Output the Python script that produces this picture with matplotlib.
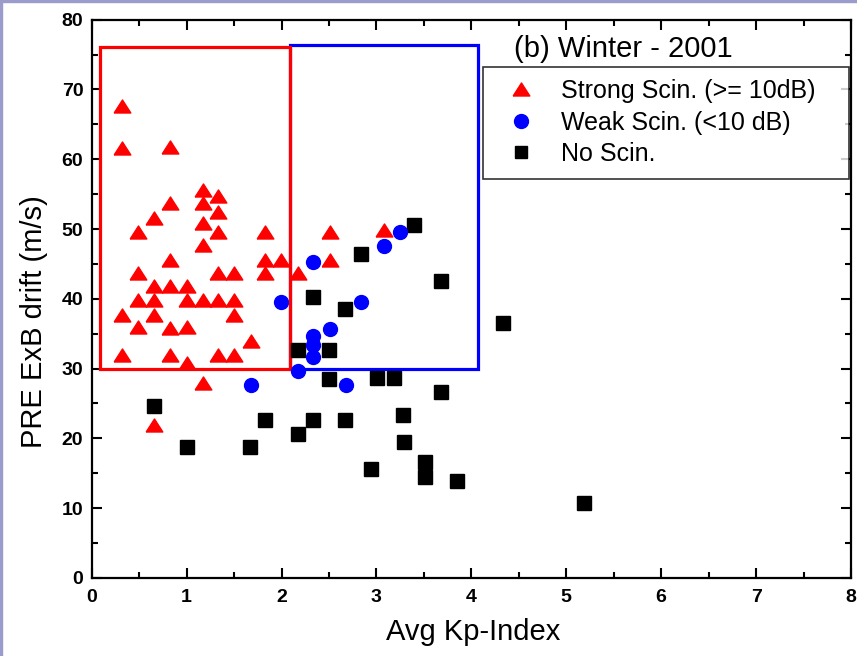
import matplotlib
matplotlib.use("Agg")
import matplotlib.pyplot as plt
from matplotlib.patches import Rectangle
from matplotlib.lines import Line2D
from matplotlib.ticker import MultipleLocator

plt.rcParams['font.family'] = ['Liberation Sans', 'DejaVu Sans']

# Strong scintillation (>= 10 dB)
strong_kp = [0.32, 0.32, 0.82, 1.17, 1.33, 1.17, 1.33, 0.82, 0.66, 0.49, 1.17, 1.33, 1.83,
             1.17, 0.82, 1.83, 1.99, 0.49, 1.33, 1.50, 1.83, 2.17, 0.66, 0.82, 1.00,
             0.49, 0.66, 1.00, 1.17, 1.33, 1.50, 0.32, 0.66, 1.50, 0.49, 0.82, 1.00,
             1.68, 0.32, 0.82, 1.33, 1.50, 1.00, 1.17, 0.66, 2.51, 3.08, 2.51]
strong_drift = [67.6, 61.6, 61.8, 55.6, 54.8, 53.7, 52.5, 53.7, 51.6, 49.6, 50.9, 49.6, 49.6,
                47.7, 45.6, 45.6, 45.6, 43.7, 43.7, 43.7, 43.7, 43.7, 41.8, 41.8, 41.8,
                39.9, 39.9, 39.9, 39.9, 39.9, 39.9, 37.7, 37.7, 37.7, 36.0, 35.8, 36.0,
                33.9, 32.0, 32.0, 32.0, 32.0, 30.8, 27.9, 21.9, 49.6, 49.8, 45.6]

# Weak scintillation (< 10 dB)
weak_kp = [3.25, 3.08, 2.33, 1.99, 2.84, 2.51, 2.33, 2.33, 2.33, 2.17, 2.68, 1.68]
weak_drift = [49.6, 47.5, 45.3, 39.6, 39.5, 35.7, 34.6, 33.4, 31.7, 29.7, 27.7, 27.7]

# No scintillation
none_kp = [0.66, 1.00, 1.67, 1.83, 2.17, 2.17, 2.33, 2.33, 2.50, 2.50, 2.67, 2.67, 2.84,
           2.94, 3.01, 3.18, 3.28, 3.29, 3.40, 3.51, 3.51, 3.68, 3.68, 3.85, 4.33, 5.19]
none_drift = [24.7, 18.8, 18.8, 22.65, 32.7, 20.6, 40.3, 22.65, 32.7, 28.5, 38.5, 22.65, 46.4,
              15.6, 28.6, 28.6, 23.3, 19.5, 50.6, 16.6, 14.5, 42.5, 26.7, 13.9, 36.6, 10.8]

# slightly flattened up-triangle, like the original
tri = [(-1, -0.78), (1, -0.78), (0, 0.78), (-1, -0.78)]

fig = plt.figure(figsize=(8.57, 6.56), dpi=100)
ax = fig.add_axes([0.107, 0.119, 0.886, 0.851])

ax.plot(none_kp, none_drift, 's', color='black', markersize=9.5, linestyle='none', zorder=3)
ax.plot(weak_kp, weak_drift, 'o', color='#0000ff', markersize=10, linestyle='none', zorder=4)
ax.plot(strong_kp, strong_drift, marker=tri, color='#ff0000', markersize=12, linestyle='none', zorder=5)

# boxes
ax.add_patch(Rectangle((0.085, 30), 2.0, 46.1, fill=False, edgecolor='#ff0000', linewidth=2.3, zorder=2))
ax.add_patch(Rectangle((2.085, 30), 1.985, 46.3, fill=False, edgecolor='#0000ff', linewidth=2.3, zorder=1.9))

ax.set_xlim(0, 8)
ax.set_ylim(0, 80)
ax.xaxis.set_major_locator(MultipleLocator(1))
ax.xaxis.set_minor_locator(MultipleLocator(0.5))
ax.yaxis.set_major_locator(MultipleLocator(10))
ax.yaxis.set_minor_locator(MultipleLocator(5))
ax.tick_params(which='both', direction='in', top=True, right=True, width=1.5)
ax.tick_params(which='major', length=7, labelsize=14)
ax.tick_params(axis='x', which='major', pad=8)
ax.tick_params(axis='y', which='major', pad=6)
ax.tick_params(which='minor', length=4)
for lab in ax.get_xticklabels() + ax.get_yticklabels():
    lab.set_fontweight('bold')
for s in ax.spines.values():
    s.set_linewidth(1.6)

ax.set_xlabel('Avg Kp-Index', fontsize=21)
ax.set_ylabel('PRE ExB drift (m/s)', fontsize=21)
ax.xaxis.set_label_coords(0.503, -0.072)
ax.yaxis.set_label_coords(-0.058, 0.459)

ax.text(0.556, 0.948, '(b) Winter - 2001', transform=ax.transAxes, fontsize=21, va='center')

handles = [
    Line2D([], [], marker=tri, color='#ff0000', linestyle='none', markersize=12),
    Line2D([], [], marker='o', color='#0000ff', linestyle='none', markersize=10),
    Line2D([], [], marker='s', color='black', linestyle='none', markersize=8.5),
]
labels = ['Strong Scin. (>= 10dB)', 'Weak Scin. (<10 dB)', 'No Scin.']
leg = ax.legend(handles, labels, loc='upper left', bbox_to_anchor=(0.516, 0.726, 0.482, 0.19),
                mode='expand', fontsize=18, frameon=True, fancybox=False, edgecolor='black',
                handlelength=2.0, handletextpad=0.6, borderpad=0.5, labelspacing=0.3,
                borderaxespad=0)
leg.get_frame().set_linewidth(1.2)

# thin lavender border on the left and top edges
fig.patches.append(Rectangle((0, 0), 0.0028, 1, transform=fig.transFigure, color='#9c9ccc', zorder=10))
fig.patches.append(Rectangle((0, 0.9965), 1, 0.0035, transform=fig.transFigure, color='#9c9ccc', zorder=10))

fig.savefig('out.png', dpi=100)
